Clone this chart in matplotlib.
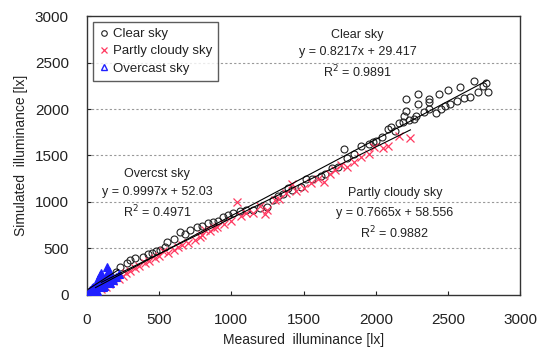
import matplotlib.pyplot as plt
from matplotlib.lines import Line2D
import numpy as np

plt.rcParams['font.family'] = ['Liberation Sans', 'DejaVu Sans']

# measured vs simulated illuminance [lx]
clear_x = [150, 200, 230, 278, 300, 333, 389, 420, 451, 480, 507, 540, 556, 600, 646, 680,
           715, 764, 800, 840, 875, 910, 944, 980, 1014, 1060, 1100, 1153, 1201, 1250, 1292,
           1320, 1360, 1389, 1420, 1479, 1514, 1560, 1618, 1650, 1700, 1736, 1778, 1800, 1850,
           1896, 1951, 1980, 2000, 2040, 2083, 2104, 2130, 2160, 2187, 2194, 2208, 2208, 2230,
           2264, 2278, 2292, 2292, 2333, 2368, 2368, 2368, 2420, 2437, 2451, 2480, 2500, 2514,
           2562, 2583, 2610, 2653, 2681, 2708, 2740, 2764, 2778]
clear_y = [180, 250, 300, 340, 380, 400, 410, 440, 453, 470, 486, 520, 572, 600, 680, 660,
           702, 734, 740, 770, 788, 800, 842, 860, 885, 900, 910, 918, 930, 950, 1026,
           1060, 1090, 1155, 1130, 1166, 1242, 1250, 1274, 1300, 1360, 1371, 1566, 1470, 1520,
           1598, 1620, 1640, 1660, 1700, 1782, 1803, 1760, 1850, 1857, 1922, 1976, 2106, 1880,
           1890, 1922, 2052, 2160, 1965, 1998, 2073, 2106, 1960, 2160, 1998, 2030, 2203, 2052,
           2084, 2235, 2120, 2127, 2300, 2181, 2250, 2279, 2181]

partly_x = [100, 130, 150, 180, 220, 250, 270, 300, 330, 360, 400, 430, 470, 500, 530, 560,
            600, 630, 660, 700, 750, 780, 800, 820, 850, 880, 900, 950, 1000, 1042, 1070, 1100,
            1153, 1200, 1230, 1250, 1300, 1330, 1380, 1420, 1450, 1500, 1550, 1600, 1640, 1680,
            1720, 1760, 1800, 1850, 1900, 1950, 1986, 2050, 2083, 2160, 2236]
partly_y = [60, 90, 120, 150, 170, 200, 240, 260, 290, 310, 340, 370, 400, 420, 470, 450,
            480, 520, 540, 560, 590, 620, 640, 700, 690, 720, 730, 760, 800, 1004, 850, 880,
            885, 960, 870, 918, 1020, 1030, 1100, 1190, 1120, 1150, 1200, 1250, 1210, 1300,
            1340, 1400, 1380, 1430, 1480, 1520, 1587, 1580, 1598, 1710, 1685]

over_x = [10, 15, 20, 25, 30, 35, 40, 42, 45, 50, 55, 60, 65, 70, 75, 80, 85, 90, 95, 100,
          105, 110, 120, 130, 135, 139, 145, 150, 155, 160, 170, 180, 200, 220]
over_y = [10, 30, 5, 50, 20, 70, 40, 54, 90, 30, 60, 110, 80, 40, 130, 170, 100, 210, 237, 150,
          120, 80, 100, 150, 200, 302, 250, 260, 180, 130, 200, 160, 190, 230]

# trend lines: (slope, intercept, x range)
fits = {
    'clear': (0.8217, 29.417, 60, 2770),
    'partly': (0.7665, 58.556, 100, 2240),
    'over': (0.9997, 52.03, 10, 220),
}

red = '#ff3860'
blue = '#2020ff'
tc = '#222222'

fig = plt.figure(figsize=(5.43, 3.49), dpi=100)
ax = fig.add_axes([0.160, 0.155, 0.798, 0.799])

ax.plot(clear_x, clear_y, 'o', ms=5, mfc='none', mec='#222222', mew=0.8, zorder=3)
ax.plot(partly_x, partly_y, 'x', ms=5.5, color=red, mew=0.9, zorder=3)
ax.plot(over_x, over_y, '^', ms=6, mfc=blue, mec=blue, mew=0.8, zorder=3)

for k, (a, b, x0, x1) in fits.items():
    xs = np.array([x0, x1])
    ax.plot(xs, a * xs + b, color='black', lw=0.8, zorder=4)

ax.set_xlim(0, 3000)
ax.set_ylim(0, 3000)
ax.set_xticks(range(0, 3001, 500))
ax.set_yticks(range(0, 3001, 500))
ax.tick_params(direction='in', length=3, labelsize=11, colors=tc)
ax.tick_params(axis='x', pad=13)
ax.tick_params(axis='y', pad=13)
for y in range(500, 3000, 500):
    ax.axhline(y, color='#999999', lw=0.8, ls=(0, (2, 2)), zorder=1)
for s in ax.spines.values():
    s.set_color('#333333')
    s.set_linewidth(1.0)

ax.set_xlabel('Measured  illuminance [lx]', fontsize=10, color=tc, labelpad=4)
ax.set_ylabel('Simulated  illuminance [lx]', fontsize=10, color=tc, labelpad=5)

fs = 9
ax.text(1875, 2797, 'Clear sky', ha='center', va='center', fontsize=fs, color=tc)
ax.text(1875, 2613, 'y = 0.8217x + 29.417', ha='center', va='center', fontsize=fs, color=tc)
ax.text(1875, 2397, 'R$^2$ = 0.9891', ha='center', va='center', fontsize=fs, color=tc)

ax.text(486, 1296, 'Overcst sky', ha='center', va='center', fontsize=fs, color=tc)
ax.text(486, 1112, 'y = 0.9997x + 52.03', ha='center', va='center', fontsize=fs, color=tc)
ax.text(486, 896, 'R$^2$ = 0.4971', ha='center', va='center', fontsize=fs, color=tc)

ax.text(2132, 1091, 'Partly cloudy sky', ha='center', va='center', fontsize=fs, color=tc)
ax.text(2132, 886, 'y = 0.7665x + 58.556', ha='center', va='center', fontsize=fs, color=tc)
ax.text(2132, 670, 'R$^2$ = 0.9882', ha='center', va='center', fontsize=fs, color=tc)

handles = [
    Line2D([], [], ls='none', marker='o', ms=4, mfc='none', mec='#222222', mew=0.8),
    Line2D([], [], ls='none', marker='x', ms=4.5, color=red, mew=0.9),
    Line2D([], [], ls='none', marker='^', ms=4.5, mfc='none', mec=blue, mew=1.0),
]
leg = ax.legend(handles, ['Clear sky', 'Partly cloudy sky', 'Overcast sky'],
                loc='upper left', fontsize=9.5, frameon=True, fancybox=False,
                handlelength=0.8, handletextpad=0.3, borderpad=0.45, labelspacing=0.38,
                borderaxespad=0.45)
leg.get_frame().set_edgecolor('#333333')
leg.get_frame().set_linewidth(1.0)
for t in leg.get_texts():
    t.set_color(tc)

fig.savefig('out.png', dpi=100)
